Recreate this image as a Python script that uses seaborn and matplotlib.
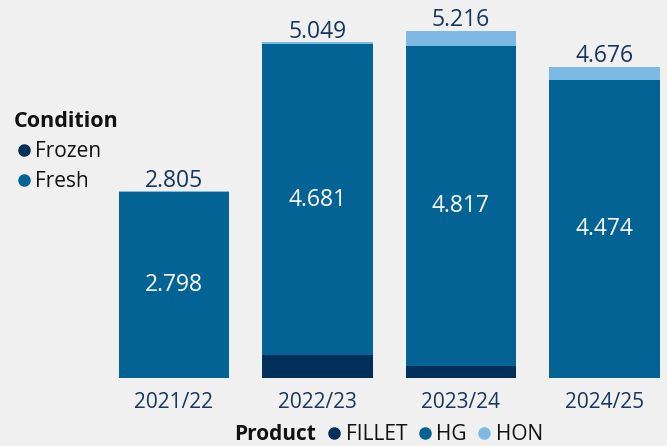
import pandas as pd
import seaborn as sns
import matplotlib.pyplot as plt
from matplotlib.lines import Line2D

seasons = ["2021/22", "2022/23", "2023/24", "2024/25"]
fillet = [0.0, 0.343, 0.18, 0.0]
hg = [2.798, 4.681, 4.817, 4.474]
hon = [0.007, 0.025, 0.219, 0.202]
totals = [2.805, 5.049, 5.216, 4.676]

colors = {"FILLET": "#00305A", "HG": "#036395", "HON": "#7DBAE3"}
bg = "#F0F0F0"
navy = "#17375E"

df = pd.DataFrame({"season": seasons, "FILLET": fillet, "HG": hg, "HON": hon})
df["lvl1"] = df["FILLET"]
df["lvl2"] = df["FILLET"] + df["HG"]
df["lvl3"] = df["lvl2"] + df["HON"]

sns.set_theme(style="white")
plt.rcParams["font.family"] = ["Open Sans", "DejaVu Sans"]

fig = plt.figure(figsize=(6.67, 4.46), dpi=100, facecolor=bg)
ax = fig.add_axes([102 / 667, 68 / 446, 565 / 667, 378 / 446])
ax.set_facecolor(bg)

# stacked bars: draw cumulative totals from top down
for col, name in [("lvl3", "HON"), ("lvl2", "HG"), ("lvl1", "FILLET")]:
    sns.barplot(data=df, x="season", y=col, color=colors[name], width=0.77,
                saturation=1, ax=ax, linewidth=0)

ax.set_xlim(-0.5, 3.437)
ax.set_ylim(0, 378 / 66.5)
for s in ax.spines.values():
    s.set_visible(False)
ax.set_yticks([])
ax.set_xlabel("")
ax.set_ylabel("")
ax.tick_params(axis="x", length=0, labelsize=15, labelcolor=navy, pad=10)

for i in range(len(seasons)):
    mid = df["lvl1"][i] + df["HG"][i] / 2
    ax.text(i, mid, f"{hg[i]:.3f}", ha="center", va="center", color="white", fontsize=16.5)
    ax.text(i, totals[i] - 0.02, f"{totals[i]:.3f}", ha="center", va="bottom",
            color=navy, fontsize=16.5)

def dot(c):
    return Line2D([], [], marker="o", linestyle="", markersize=8,
                  markerfacecolor=c, markeredgecolor=c)

leg1 = fig.legend([dot(colors["FILLET"]), dot(colors["HG"])], ["Frozen", "Fresh"],
                  title="Condition", loc="upper left", bbox_to_anchor=(0.02, 0.752),
                  frameon=False, fontsize=15, title_fontsize=15.5,
                  handletextpad=0.05, handlelength=1.0, labelspacing=0.45,
                  borderaxespad=0, borderpad=0, alignment="left")
leg1.get_title().set_fontweight("bold")
leg1.get_title().set_color("#111111")
for t in leg1.get_texts():
    t.set_color("#111111")

handles = [Line2D([], [], linestyle="")] + [dot(colors[k]) for k in ["FILLET", "HG", "HON"]]
leg2 = fig.legend(handles, ["Product", "FILLET", "HG", "HON"],
                  loc="center", bbox_to_anchor=(0.568, 0.025), ncol=4, frameon=False,
                  fontsize=15, handletextpad=0.15, handlelength=0.8, columnspacing=0.45,
                  borderaxespad=0, borderpad=0)
for t in leg2.get_texts():
    t.set_color("#111111")
leg2.get_texts()[0].set_fontweight("bold")

fig.savefig("out.png", dpi=100, facecolor=bg)
